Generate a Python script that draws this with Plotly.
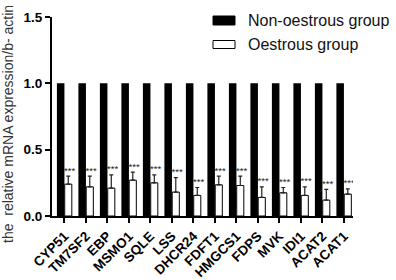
import numpy as np
import plotly.graph_objects as go

genes = ["CYP51", "TM7SF2", "EBP", "MSMO1", "SQLE", "LSS", "DHCR24", "FDFT1",
         "HMGCS1", "FDPS", "MVK", "IDI1", "ACAT2", "ACAT1"]
non_oestrous = [1.0] * 14
oestrous = [0.24, 0.22, 0.21, 0.27, 0.25, 0.18, 0.155, 0.235, 0.23, 0.14, 0.175, 0.155, 0.12, 0.165]
oestrous_err = [0.06, 0.08, 0.10, 0.06, 0.06, 0.11, 0.06, 0.065, 0.07, 0.08, 0.04, 0.065, 0.08, 0.04]
sig = ["***"] * 14
y_ticks = [0.0, 0.5, 1.0, 1.5]
legend_names = ["Non-oestrous group", "Oestrous group"]

FONT = "Liberation Sans, Arial, sans-serif"
W, H = 396, 280
ML, MR, MT, MB = 52, 43, 17, 64
PW, PH = W - ML - MR, H - MT - MB
idx = np.arange(len(genes))
off = 0.177


def px_x(p):
    return (p - ML) / PW


def px_y(p):
    return (H - MB - p) / PH


fig = go.Figure()
fig.add_trace(go.Bar(
    x=idx - off, y=non_oestrous, width=0.35, name=legend_names[0],
    marker=dict(color="black", line=dict(color="black", width=0)), showlegend=False,
))
fig.add_trace(go.Bar(
    x=idx + off, y=oestrous, width=0.33, name=legend_names[1],
    marker=dict(color="white", line=dict(color="black", width=1)), showlegend=False,
    error_y=dict(type="data", symmetric=False, array=oestrous_err,
                 arrayminus=[0] * 14, color="#222", thickness=1.2, width=2),
))
top = [v + e for v, e in zip(oestrous, oestrous_err)]
fig.add_trace(go.Scatter(
    x=idx + off + 0.06, y=top, mode="text", text=sig, textposition="top center",
    textfont=dict(family=FONT, size=9.5, color="#222"), showlegend=False,
    hoverinfo="skip",
))

# custom legend (wide swatches as in the reference)
shapes = [
    dict(type="rect", xref="paper", yref="paper", x0=px_x(213), x1=px_x(235),
         y0=px_y(25), y1=px_y(16), fillcolor="black", line=dict(color="black", width=1)),
    dict(type="rect", xref="paper", yref="paper", x0=px_x(213), x1=px_x(235),
         y0=px_y(48.5), y1=px_y(40.5), fillcolor="white", line=dict(color="black", width=1)),
]
annotations = [
    dict(text="the  relative mRNA expression/b- actin", textangle=-90,
         xref="paper", yref="paper", x=px_x(8), y=px_y(124),
         xanchor="center", yanchor="middle", showarrow=False,
         font=dict(family=FONT, size=14, color="#333")),
]
for name, yc in zip(legend_names, [20.5, 44.5]):
    annotations.append(dict(text=name, xref="paper", yref="paper", x=px_x(246), y=px_y(yc),
                            xanchor="left", yanchor="middle", showarrow=False,
                            font=dict(family=FONT, size=16, color="#111")))

fig.update_layout(
    width=W, height=H,
    margin=dict(l=ML, r=MR, t=MT, b=MB, autoexpand=False),
    plot_bgcolor="white", paper_bgcolor="white",
    barmode="overlay",
    font=dict(family=FONT, color="black"),
    showlegend=False,
    shapes=shapes,
    annotations=annotations,
    xaxis=dict(range=[-0.58, 13.42], tickmode="array", tickvals=idx, ticktext=genes,
               tickangle=-45, tickfont=dict(family=FONT, size=13.5, color="black", weight="bold"),
               showline=True, linecolor="black", linewidth=2, ticks="outside",
               ticklen=5, tickwidth=1.5, tickcolor="black", showgrid=False, zeroline=False,
               automargin=False),
    yaxis=dict(range=[0, 1.5], tickmode="array", tickvals=y_ticks,
               ticktext=[f"{v:.1f}" for v in y_ticks],
               tickfont=dict(family=FONT, size=13.5, color="black", weight="bold"),
               showline=True, linecolor="black", linewidth=2, ticks="outside",
               ticklen=5, tickwidth=2, tickcolor="black", showgrid=False, zeroline=False,
               automargin=False),
)

fig.write_html("out.html")
